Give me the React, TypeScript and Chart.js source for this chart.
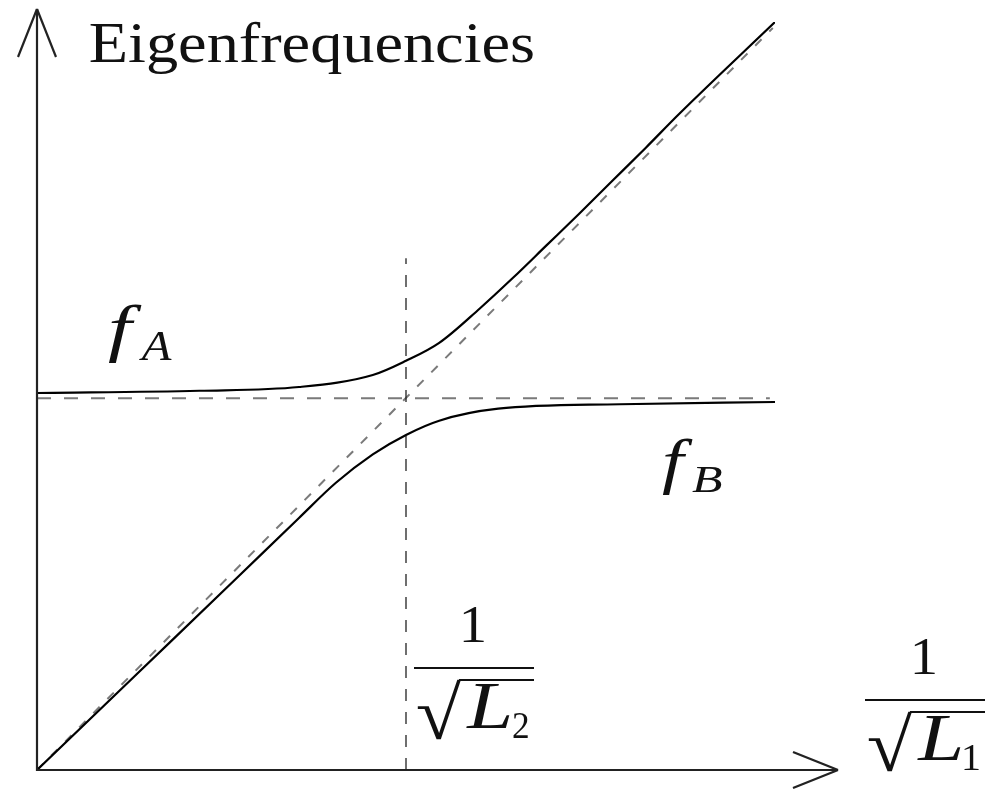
import { useEffect, useRef } from 'react';
import { Chart, registerables } from 'chart.js';

Chart.register(...registerables);

// Upper eigenfrequency branch f_A (x = 1/sqrt(L1), y = frequency)
const upperX = [0, 2.2, 3.55, 4.55, 5.0, 5.45, 6.0, 6.45, 6.9, 7.35, 7.8, 8.25, 8.7, 10];
const upperY = [5.04, 5.07, 5.12, 5.28, 5.47, 5.71, 6.17, 6.58, 7.01, 7.44, 7.88, 8.32, 8.77, 10.0];

// Lower eigenfrequency branch f_B
const lowerX = [0, 1.35, 2.7, 3.55, 4.05, 4.55, 5.0, 5.45, 6.25, 7.9, 10];
const lowerY = [0, 1.28, 2.56, 3.37, 3.84, 4.22, 4.48, 4.67, 4.83, 4.89, 4.92];

// Uncoupled asymptotes and the crossing point 1/sqrt(L2)
const crossX = 5.0;
const crossY = 4.97;
const horizontalEnd = 9.93;
const diagonalEnd = { x: 9.97, y: 9.92 };
const markerTop = 6.84;

const xRange = [0, 10];
const yRange = [0, 10];

const titleText = 'Eigenfrequencies';
const branchSymbol = 'f';
const branchSubs = ['A', 'B'];
const fractionNumerator = '1';
const radicalSign = '\u221A';
const inductanceSymbol = 'L';
const inductanceSubs = ['2', '1'];

type Pt = { x: number; y: number };
const toPoints = (xs: number[], ys: number[]): Pt[] => xs.map((x, i) => ({ x, y: ys[i] }));

const SERIF = '"Liberation Serif", "DejaVu Serif", serif';

// Draw text stretched so its ink box fills the given rectangle
function fitBox(
  ctx: CanvasRenderingContext2D,
  text: string,
  font: string,
  left: number,
  top: number,
  right: number,
  bottom: number
) {
  ctx.save();
  ctx.font = font;
  ctx.textAlign = 'left';
  ctx.textBaseline = 'alphabetic';
  const m = ctx.measureText(text);
  const bw = m.actualBoundingBoxLeft + m.actualBoundingBoxRight;
  const bh = m.actualBoundingBoxAscent + m.actualBoundingBoxDescent;
  ctx.translate(left, top);
  ctx.scale((right - left) / bw, (bottom - top) / bh);
  ctx.fillText(text, m.actualBoundingBoxLeft, m.actualBoundingBoxAscent);
  ctx.restore();
}

// Draw text on a baseline, scaled horizontally to a given width
function fitWidth(
  ctx: CanvasRenderingContext2D,
  text: string,
  font: string,
  left: number,
  baseline: number,
  width: number
) {
  ctx.save();
  ctx.font = font;
  ctx.textAlign = 'left';
  ctx.textBaseline = 'alphabetic';
  const m = ctx.measureText(text);
  const w = m.actualBoundingBoxLeft + m.actualBoundingBoxRight;
  ctx.translate(left, baseline);
  ctx.scale(width / w, 1);
  ctx.fillText(text, m.actualBoundingBoxLeft, 0);
  ctx.restore();
}

function line(ctx: CanvasRenderingContext2D, x1: number, y1: number, x2: number, y2: number) {
  ctx.beginPath();
  ctx.moveTo(x1, y1);
  ctx.lineTo(x2, y2);
  ctx.stroke();
}

// 1 over sqrt(L_n), positioned by its fraction bar
function drawFraction(
  ctx: CanvasRenderingContext2D,
  barLeft: number,
  barY: number,
  sub: string
) {
  const barRight = barLeft + 120;
  ctx.strokeStyle = '#111';
  ctx.fillStyle = '#111';
  ctx.lineWidth = 2.2;
  line(ctx, barLeft, barY, barRight, barY);
  // numerator
  const cx = barLeft + 59;
  fitBox(ctx, fractionNumerator, `54px ${SERIF}`, cx - 10, barY - 61, cx + 11, barY - 26);
  // radical sign and its overbar
  const rTop = barY + 11;
  fitBox(ctx, radicalSign, `60px ${SERIF}`, barLeft + 3, rTop, barLeft + 47, rTop + 61);
  ctx.lineWidth = 2.2;
  line(ctx, barLeft + 45, rTop + 1, barRight, rTop + 1);
  // L with subscript
  fitBox(ctx, inductanceSymbol, `italic 62px ${SERIF}`, barLeft + 52, rTop + 6, barLeft + 96, rTop + 49);
  fitBox(ctx, sub, `40px ${SERIF}`, barLeft + 99, rTop + 35, barLeft + 114, rTop + 59);
}

const annotationPlugin = {
  id: 'eigenAnnotations',
  afterDraw(chart: Chart) {
    const ctx = chart.ctx;
    const xs = chart.scales.x;
    const ys = chart.scales.y;
    const ox = xs.getPixelForValue(0);
    const oy = ys.getPixelForValue(0);

    ctx.save();
    ctx.strokeStyle = '#222';
    ctx.lineWidth = 2.2;
    ctx.lineCap = 'butt';

    // vertical axis with open arrowhead
    const yTip = 9;
    line(ctx, ox, oy + 1, ox, yTip);
    line(ctx, ox, yTip, ox - 19, yTip + 48);
    line(ctx, ox, yTip, ox + 19, yTip + 48);

    // horizontal axis with open arrowhead
    const xTip = 838;
    line(ctx, ox - 1, oy, xTip, oy);
    line(ctx, xTip, oy, xTip - 45, oy - 18);
    line(ctx, xTip, oy, xTip - 45, oy + 18);

    // title
    ctx.fillStyle = '#111';
    fitWidth(ctx, titleText, `56px ${SERIF}`, 90, 62, 443);

    // branch labels
    fitBox(ctx, branchSymbol, `italic 60px ${SERIF}`, 108, 305, 142, 363);
    fitBox(ctx, branchSubs[0], `italic 40px ${SERIF}`, 138, 332, 172, 360);
    fitBox(ctx, branchSymbol, `italic 60px ${SERIF}`, 662, 438, 693, 495);
    fitBox(ctx, branchSubs[1], `italic 40px ${SERIF}`, 692, 467, 722, 492);

    // 1/sqrt(L2) beside the crossing marker, 1/sqrt(L1) at the axis end
    const markerPx = xs.getPixelForValue(crossX);
    drawFraction(ctx, markerPx + 8, 668, inductanceSubs[0]);
    drawFraction(ctx, xTip + 27, 700, inductanceSubs[1]);

    ctx.restore();
  },
};

export default function App() {
  const canvasRef = useRef<HTMLCanvasElement | null>(null);

  useEffect(() => {
    const canvas = canvasRef.current;
    if (!canvas) return;
    const chart = new Chart(canvas, {
      type: 'scatter',
      data: {
        datasets: [
          {
            label: 'f_A',
            data: toPoints(upperX, upperY),
            showLine: true,
            borderColor: '#000',
            borderWidth: 2.2,
            pointRadius: 0,
            cubicInterpolationMode: 'monotone',
          },
          {
            label: 'f_B',
            data: toPoints(lowerX, lowerY),
            showLine: true,
            borderColor: '#000',
            borderWidth: 2.2,
            pointRadius: 0,
            cubicInterpolationMode: 'monotone',
          },
          {
            label: 'crossing marker',
            data: [
              { x: crossX, y: 0 },
              { x: crossX, y: markerTop },
            ],
            showLine: true,
            borderColor: '#222',
            borderWidth: 1.3,
            borderDash: [12, 11],
            pointRadius: 0,
          },
          {
            label: 'f_A uncoupled',
            data: [
              { x: 0, y: crossY },
              { x: horizontalEnd, y: crossY },
            ],
            showLine: true,
            borderColor: '#7a7a7a',
            borderWidth: 2,
            borderDash: [14, 13],
            pointRadius: 0,
          },
          {
            label: 'f_B uncoupled',
            data: [{ x: 0, y: 0 }, diagonalEnd],
            showLine: true,
            borderColor: '#7a7a7a',
            borderWidth: 2,
            borderDash: [9, 11],
            pointRadius: 0,
          },
        ],
      },
      options: {
        animation: false,
        responsive: false,
        events: [],
        layout: { padding: { left: 37, right: 210, top: 22, bottom: 19 } },
        plugins: {
          legend: { display: false },
          tooltip: { enabled: false },
        },
        scales: {
          x: { type: 'linear', min: xRange[0], max: xRange[1], display: false },
          y: { type: 'linear', min: yRange[0], max: yRange[1], display: false },
        },
      },
      plugins: [annotationPlugin],
    });
    return () => chart.destroy();
  }, []);

  return (
    <div style={{ position: 'fixed', left: 0, top: 0, width: 985, height: 789, background: '#fff' }}>
      <canvas ref={canvasRef} width={985} height={789} style={{ display: 'block' }} />
    </div>
  );
}
